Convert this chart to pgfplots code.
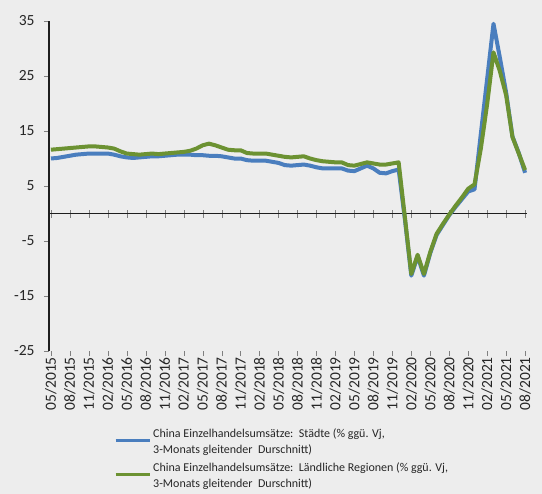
\documentclass[border=0pt]{standalone}
\usepackage{fontspec}
\setmainfont{Carlito}
\usepackage{pgfplots}
\pgfplotsset{compat=1.18}
\usepackage{pgfplotstable}
\definecolor{bg}{RGB}{237,237,237}
\definecolor{cblue}{RGB}{74,126,190}
\definecolor{cgreen}{RGB}{108,146,50}
\definecolor{axc}{RGB}{30,30,30}
\definecolor{txt}{RGB}{38,38,38}

\pgfplotstableread{
m B G
0 10.0 11.6
1 10.1 11.7
2 10.3 11.8
3 10.5 11.9
4 10.7 12.0
5 10.8 12.1
6 10.9 12.2
7 10.9 12.2
8 10.9 12.1
9 10.9 12.0
10 10.7 11.8
11 10.4 11.3
12 10.2 10.9
13 10.1 10.8
14 10.2 10.7
15 10.3 10.8
16 10.4 10.9
17 10.4 10.8
18 10.5 10.9
19 10.6 11.0
20 10.7 11.1
21 10.7 11.2
22 10.7 11.4
23 10.6 11.8
24 10.6 12.4
25 10.5 12.7
26 10.5 12.4
27 10.4 12.0
28 10.2 11.6
29 10.0 11.5
30 10.0 11.5
31 9.7 11.0
32 9.6 10.9
33 9.6 10.9
34 9.6 10.9
35 9.4 10.7
36 9.2 10.5
37 8.8 10.3
38 8.7 10.2
39 8.8 10.3
40 8.9 10.4
41 8.7 10.0
42 8.4 9.7
43 8.2 9.5
44 8.2 9.4
45 8.2 9.3
46 8.2 9.3
47 7.8 8.8
48 7.7 8.7
49 8.2 9.0
50 8.7 9.3
51 8.2 9.1
52 7.4 8.9
53 7.3 8.9
54 7.7 9.1
55 8.0 9.3
56 -1.2 -0.8
57 -11.3 -11.0
58 -7.8 -7.5
59 -11.3 -11.0
60 -7.2 -7.0
61 -3.9 -3.7
62 -2.1 -1.9
63 -0.3 -0.2
64 1.2 1.4
65 2.6 2.9
66 4.0 4.5
67 4.4 5.3
68 14.5 11.8
69 24.5 19.9
70 34.5 29.3
71 28.4 25.9
72 22.0 21.5
73 14.0 13.9
74 11.0 10.9
75 7.4 7.9
}\data

\begin{document}
\begin{tikzpicture}
\path[use as bounding box, fill=bg] (-49bp,-143bp) rectangle (493bp,351bp);
\begin{axis}[
  scale only axis, width=478bp, height=330bp,
  xmin=-0.3, xmax=75.3, ymin=-25, ymax=35,
  axis x line=middle, axis y line=none,
  xtick={0,3,...,75}, xticklabels={},
  major tick length=8bp,
  x axis line style={-, draw=axc, line width=1.3bp},
]
\end{axis}
\begin{axis}[
  scale only axis, width=478bp, height=330bp,
  xmin=-0.3, xmax=75.3, ymin=-25, ymax=35,
  axis y line=left, axis x line=bottom,
  x axis line style={draw=none},
  xtick={0,3,...,75},
  xticklabels={05/2015,08/2015,11/2015,02/2016,05/2016,08/2016,11/2016,02/2017,05/2017,08/2017,11/2017,02/2018,05/2018,08/2018,11/2018,02/2019,05/2019,08/2019,11/2019,02/2020,05/2020,08/2020,11/2020,02/2021,05/2021,08/2021},
  ytick={-25,-15,-5,5,15,25,35},
  yticklabels={-25,-15,-5,5,15,25,35},
  tick align=outside, major tick length=5bp,
  y axis line style={-, draw=axc, line width=1.3bp},
  xticklabel style={rotate=90, anchor=east, font=\fontsize{15.5bp}{18bp}\selectfont, text=txt, inner sep=1bp},
  yticklabel style={font=\fontsize{15.5bp}{18bp}\selectfont, text=txt, xshift=-6bp},
  legend style={at={(axis description cs:0,0)}, anchor=north west, xshift=65bp, yshift=-76bp,
    draw=none, fill=none, font=\fontsize{12bp}{15.5bp}\selectfont, text=txt,
    cells={align=left}, row sep=4bp, inner sep=0pt},
  legend cell align=left,
  legend image code/.code={\draw[#1, line width=3bp] (0bp,1.5bp) -- (34bp,1.5bp);},
]
\addplot[cblue, line width=4bp, line join=round] table[x=m, y=B]{\data};
\addlegendentry{China Einzelhandelsumsätze:\ \ Städte (\% ggü. Vj,\\3-Monats gleitender\ \ Durschnitt)}
\addplot[cgreen, line width=4bp, line join=round] table[x=m, y=G]{\data};
\addlegendentry{China Einzelhandelsumsätze:\ \ Ländliche Regionen (\% ggü. Vj,\\3-Monats gleitender\ \ Durschnitt)}
\end{axis}
\end{tikzpicture}
\end{document}
